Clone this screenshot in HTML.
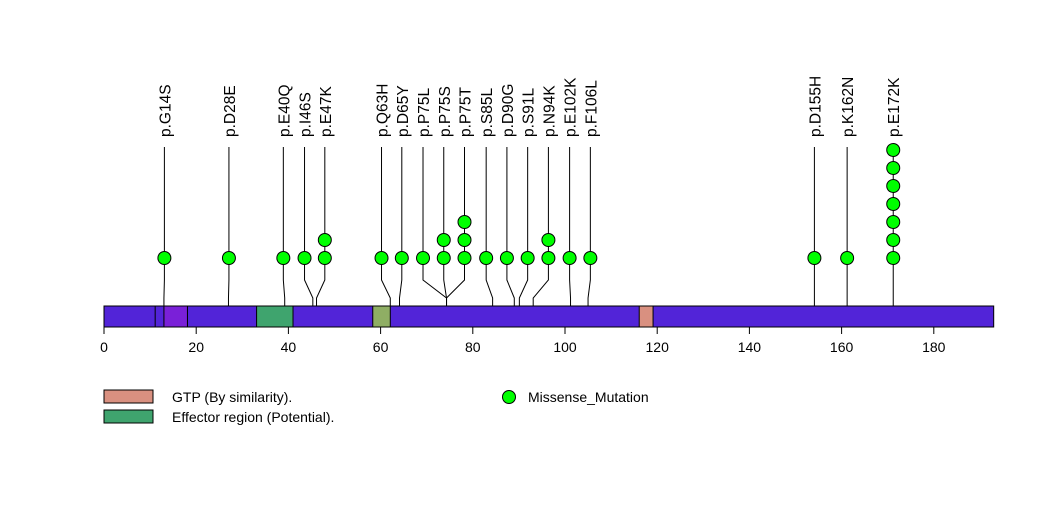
<!DOCTYPE html>
<html><head><meta charset="utf-8"><style>
body{margin:0;background:#fff;}
svg{display:block;font-family:"Liberation Sans",Arial,sans-serif;}
</style></head><body>
<svg id="chart" width="1047" height="524" viewBox="0 0 1047 524">
<g id="lines"></g>
<rect x="104" y="306" width="889.7" height="21" fill="#5224d8" stroke="#000" stroke-width="1"/>
<g id="domains"></g>
<g id="marks"></g>
<g id="axis"></g>
<g>
<rect x="104" y="390" width="49" height="13" fill="#d99080" stroke="#000"/>
<text x="172" y="402" font-size="14">GTP (By similarity).</text>
<rect x="104" y="410" width="49" height="13" fill="#3fa46e" stroke="#000"/>
<text x="172" y="422" font-size="14">Effector region (Potential).</text>
<circle cx="509" cy="397" r="6.5" fill="#00ff00" stroke="#000"/>
<text x="528" y="402" font-size="14">Missense_Mutation</text>
</g>
</svg>
<script>
const labels=["p.G14S","p.D28E","p.E40Q","p.I46S","p.E47K","p.Q63H","p.D65Y","p.P75L","p.P75S","p.P75T","p.S85L","p.D90G","p.S91L","p.N94K","p.E102K","p.F106L","p.D155H","p.K162N","p.E172K"];
const truePos=[13,27,39.2,45.3,46.1,62.1,64.1,74.3,74.3,74.3,84.3,89,90.1,93.1,101.2,105,154.1,161.2,171.2];
const displayPos=[13.1,27.1,38.9,43.5,47.9,60.2,64.6,69.2,73.7,78.2,82.9,87.4,91.9,96.4,101,105.5,154.1,161.2,171.2];
const counts=[1,1,1,1,2,1,1,1,2,3,1,1,1,2,1,1,1,1,7];
const domStart=[11.1,13,33.1,58.3,116.1];
const domEnd=[18.1,18.1,41,62.1,119.1];
const domColor=["#5224d8","#7a20d8","#3fa46e","#8fae64","#d99080"];
const domName=["domain-a","domain-b","effector-region","domain-c","gtp-region"];
const ticks=[0,20,40,60,80,100,120,140,160,180];

const NS="http://www.w3.org/2000/svg";
const X=v=>104+4.61*v;
const Y=k=>258-18*k;
function mk(tag,attrs,parent){const e=document.createElementNS(NS,tag);for(const k in attrs)e.setAttribute(k,attrs[k]);parent.appendChild(e);return e;}
const gl=document.getElementById('lines'),gm=document.getElementById('marks'),gd=document.getElementById('domains'),ga=document.getElementById('axis');
for(let i=0;i<domStart.length;i++){
 const r=mk('rect',{x:X(domStart[i]),y:306,width:X(domEnd[i])-X(domStart[i]),height:21,fill:domColor[i],stroke:'#000','stroke-width':1},gd);
 
 
}
for(let i=0;i<labels.length;i++){
 const dx=X(displayPos[i]),tx=X(truePos[i]);
 const p=mk('polyline',{points:`${dx},147 ${dx},280 ${tx},298 ${tx},327`,fill:'none',stroke:'#000','stroke-width':1},gl);
 
 
 for(let k=0;k<counts[i];k++){
  const c=mk('circle',{cx:dx,cy:Y(k),r:6.5,fill:'#00ff00',stroke:'#000','stroke-width':1},gm);
  
  
 }
 const t=mk('text',{x:0,y:0,'font-size':15.5,transform:`translate(${dx+6},137) rotate(-90)`},gm);
 t.textContent=labels[i];
 
 
}
for(const v of ticks){
 const l=mk('line',{x1:X(v),x2:X(v),y1:327,y2:334,stroke:'#000'},ga);
 
 
 const t=mk('text',{x:X(v),y:352,'font-size':14,'text-anchor':'middle'},ga);
 t.textContent=v;
 
 
}
</script>
</body></html>
